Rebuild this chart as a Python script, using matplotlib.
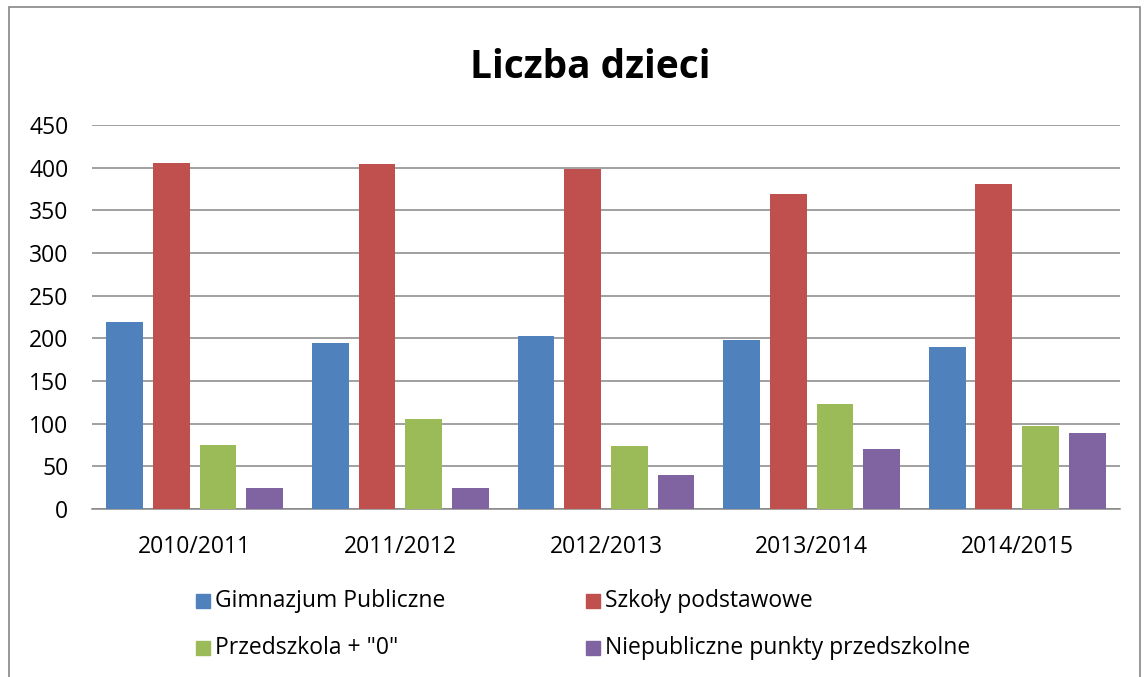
import matplotlib.pyplot as plt
import numpy as np
from matplotlib.patches import Rectangle

plt.rcParams['font.family'] = ['Open Sans', 'DejaVu Sans']

# Data
years = ['2010/2011', '2011/2012', '2012/2013', '2013/2014', '2014/2015']
gimnazjum = [219, 194, 203, 198, 190]
szkoly = [406, 404, 398, 369, 381]
przedszkola = [75, 106, 74, 123, 97]
niepubliczne = [24, 24, 40, 70, 89]

series = ['Gimnazjum Publiczne', 'Szkoły podstawowe', 'Przedszkola + "0"', 'Niepubliczne punkty przedszkolne']
colors = ['#4F81BD', '#C0504D', '#9BBB59', '#8064A2']

fig = plt.figure(figsize=(11.48, 6.77), dpi=100)
ax = fig.add_axes([0.0801, 0.2482, 0.8955, 0.5672])

x = np.arange(len(years))
pitch = 0.227
width = 0.179
for i, (vals, lab, col) in enumerate(zip([gimnazjum, szkoly, przedszkola, niepubliczne], series, colors)):
    ax.bar(x + (i - 1.5) * pitch, vals, width, color=col, label=lab, zorder=3)

ax.set_xlim(-0.5, 4.5)
ax.set_ylim(0, 450)
ax.set_yticks(range(0, 451, 50))
ax.set_xticks(x)
ax.set_xticklabels(years)
ax.tick_params(axis='both', length=0, labelsize=16.5, colors='black')
ax.tick_params(axis='y', pad=17)
ax.tick_params(axis='x', pad=19)
ax.yaxis.grid(True, color='#868686', linewidth=1.1, zorder=0)
for s in ['top', 'right', 'left']:
    ax.spines[s].set_visible(False)
ax.spines['bottom'].set_color('#868686')
ax.spines['bottom'].set_linewidth(1.1)

fig.text(0.514, 0.90, 'Liczba dzieci', ha='center', va='center', fontsize=28, fontweight='bold')

# legend: 2 columns, row-wise order
W, H = 1148, 677
col_x = [196, 586]
row_y = [601, 648]
sq = 14
for i, (lab, col) in enumerate(zip(series, colors)):
    cx = col_x[i % 2]
    cy = row_y[i // 2]
    fig.patches.append(Rectangle((cx / W, 1 - (cy + sq / 2) / H), sq / W, sq / H,
                                 transform=fig.transFigure, color=col))
    fig.text((cx + sq + 5) / W, 1 - cy / H, lab, ha='left', va='center', fontsize=16.5)

# outer chart border
fig.patches.append(Rectangle((0.008, -0.01), 0.985, 1.0, transform=fig.transFigure,
                             fill=False, edgecolor='#868686', linewidth=1.2))

fig.savefig('out.png', dpi=100)
